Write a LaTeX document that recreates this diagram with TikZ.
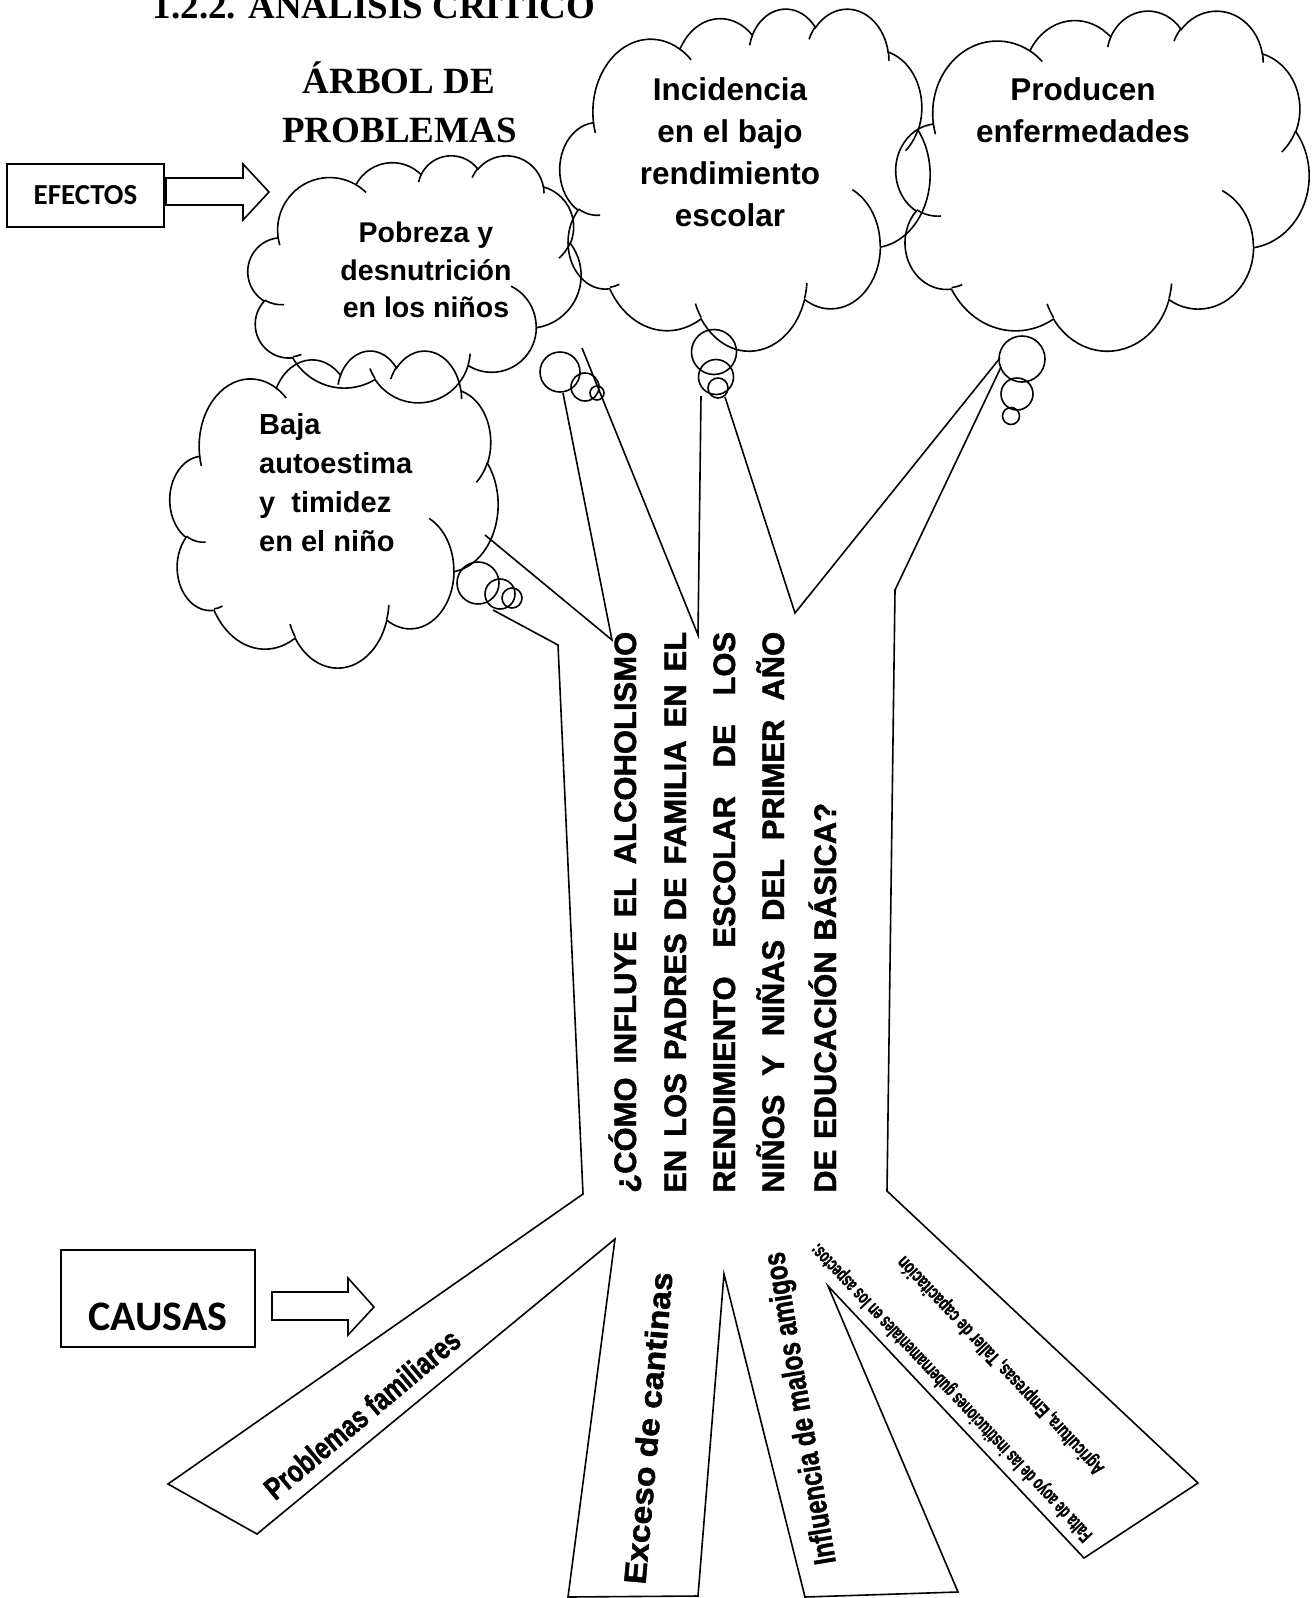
\documentclass[tikz,border=0pt]{standalone}
\usepackage{fontspec}
\setmainfont{Liberation Sans}
\newfontfamily\timesfont{Liberation Serif}
\newfontfamily\calibrifont{Carlito}
\newfontfamily\heavyfont{Liberation Sans}[BoldFeatures={FakeBold=1.5}]
\usepackage{graphicx}
\usetikzlibrary{positioning}
\tikzset{
    treeline/.style={line width=1.6pt, line join=miter},
    bubble/.style={draw, circle, line width=1.6pt, inner sep=0pt,
                   minimum size=#1},
    tagbox/.style={draw, line width=1.6pt, inner sep=0pt,
                   minimum width=#1, font=\calibrifont\bfseries},
    titletext/.style={anchor=base, inner sep=0pt,
                      font=\timesfont\bfseries\fontsize{37}{40}\selectfont},
    cloudtext/.style 2 args={inner sep=0pt, align=center,
                      font=\bfseries\fontsize{#1}{#2}\selectfont},
    trunktext/.style={rotate=90, anchor=base west, inner sep=0pt,
                      font=\heavyfont\bfseries\fontsize{31}{31}\selectfont},
    roottext/.style={inner sep=0pt, font=\heavyfont\bfseries\fontsize{#1}{#1}\selectfont},
    carc/.style n args={4}{insert path={
        arc[x radius=#1, y radius=#2,
            start angle={atan2(#1*sin(#3),#2*cos(#3))},
            delta angle={mod(atan2(#1*sin(#3+#4),#2*cos(#3+#4))-atan2(#1*sin(#3),#2*cos(#3))+720,360)}]}},
}
% cloud outline in a 432 x 432 box, placed at (x,y) with width w and height h
\newcommand{\wordcloud}[4]{%
  \pgfmathsetmacro{\cloudxu}{#3/432}%
  \pgfmathsetmacro{\cloudyu}{-#4/432}%
  \begin{scope}[shift={(#1,#2)}, x=\cloudxu pt, y=\cloudyu pt]
    \draw[treeline] (39.00,143.70)
        [carc={67.53}{91.90}{-190.4875}{123.7805}]
        [carc={53.33}{72.67}{-144.1024}{89.9452}]
        [carc={43.65}{59.45}{-145.8079}{99.7230}]
        [carc={48.57}{65.95}{-130.9861}{117.2417}]
        [carc={53.33}{72.73}{-78.7089}{109.0269}]
        [carc={67.75}{92.20}{-46.2673}{130.2690}]
        [carc={57.85}{78.67}{0.6250}{114.0333}]
        [carc={67.52}{92.15}{22.4516}{115.1726}]
        [carc={77.20}{105.43}{66.2426}{75.7110}]
        [carc={43.60}{59.18}{-274.9421}{146.7356}]
        [carc={43.45}{59.45}{-246.8285}{152.5189}] -- cycle;
    \draw[treeline]
        (46.93,261.77) [carc={43.45}{59.45}{86.7420}{26.4295}]
        (69.28,348.99) [carc={43.60}{59.18}{73.6105}{11.4475}]
        (164.78,390.90) [carc={67.52}{92.15}{137.6242}{14.0811}]
        (288.27,347.51) [carc={67.52}{92.15}{6.4533}{15.9984}]
        (341.29,229.54) [carc={57.85}{78.67}{-70.2924}{70.9174}]
        (417.98,153.54) [carc={53.33}{72.73}{30.3180}{27.7515}]
        (383.24,54.26) [carc={48.57}{65.95}{-13.7443}{14.8589}]
        (290.78,39.52) [carc={48.57}{65.95}{-149.1815}{18.1954}]
        (221.41,47.20) [carc={43.65}{59.45}{-163.4943}{17.6864}]
        (140.00,51.92) [carc={67.53}{91.90}{-66.7070}{12.3194}]
        (41.27,157.89) [carc={67.53}{91.90}{157.6544}{11.8582}];
  \end{scope}}

\begin{document}
\begin{tikzpicture}[x=1pt, y=-1pt]
    \useasboundingbox (0,0) rectangle (1315,1598);

    \node[titletext] (sectitle) at (374,19) {1.2.2. ANÁLISIS CRÍTICO};
    \node[titletext] (treetitle) at (399,93) {ÁRBOL DE};
    \node[titletext] (treetitleb) at (399.5,142) {PROBLEMAS};

    \node[tagbox=157pt, minimum height=63pt, font=\calibrifont\bfseries\fontsize{29}{29}\selectfont]
        (efectos) at (85.5,195.5) {EFECTOS};
    \draw[treeline] (166,178) -- (243,178) -- (243,164) -- (269,192) -- (243,220)
        -- (243,205) -- (166,205) -- cycle;
    \node[tagbox=194pt, text height=80pt, text depth=17pt, font=\calibrifont\bfseries\fontsize{42}{42}\selectfont]
        (causas) at (158,1298.5) {CAUSAS};
    \draw[treeline] (272,1292) -- (348,1292) -- (348,1278) -- (374,1307) -- (348,1335)
        -- (348,1320) -- (272,1320) -- cycle;

    \wordcloud{248}{155}{333}{247}
    \wordcloud{560}{8}{370}{342}
    \wordcloud{896}{10}{413}{340}
    \wordcloud{170}{350}{328}{317}

    \node[cloudtext={28.5}{37.5}] (pobreza) at (426,270) {Pobreza y\\desnutrición\\en los niños};
    \node[cloudtext={31.5}{42}] (incidencia) at (730,152.5) {Incidencia\\en el bajo\\rendimiento\\escolar};
    \node[cloudtext={31.5}{42}] (producen) at (1083,110.5) {Producen\\enfermedades};
    \node[cloudtext={29}{39}, align=left, anchor=west] (baja) at (259,483) {Baja\\autoestima\\y~ timidez\\en el niño};

    \node[bubble=40pt] (bubA1) at (560,372) {};
    \node[bubble=28pt] (bubA2) at (585,387) {};
    \node[bubble=14pt] (bubA3) at (597,393) {};
    \node[bubble=45pt] (bubB1) at (714,352) {};
    \node[bubble=35pt] (bubB2) at (716,377) {};
    \node[bubble=20pt] (bubB3) at (718,388) {};
    \node[bubble=46pt] (bubC1) at (1022,359) {};
    \node[bubble=32pt] (bubC2) at (1017,394) {};
    \node[bubble=17pt] (bubC3) at (1011,416) {};
    \node[bubble=42pt] (bubD1) at (478,583) {};
    \node[bubble=30pt] (bubD2) at (500,594) {};
    \node[bubble=20pt] (bubD3) at (512,598) {};

    \coordinate (dTop) at (485,535);
    \coordinate (dLow) at (493,610);
    \coordinate (kneeL) at (558,645);
    \coordinate (footL) at (583,1194);
    \coordinate (v1) at (612,640);
    \coordinate (aLeft) at (563,393);
    \coordinate (aRight) at (582,348);
    \coordinate (v2) at (698,635);
    \coordinate (bLeft) at (701,396);
    \coordinate (bRight) at (725,397);
    \coordinate (v3) at (795,613);
    \coordinate (cLeft) at (1000,358);
    \coordinate (cRight) at (1001,367);
    \coordinate (kneeR) at (895,590);
    \coordinate (footR) at (887,1191);
    \coordinate (tip1a) at (168,1484);
    \coordinate (tip1b) at (257,1534);
    \coordinate (gap1) at (615,1239);
    \coordinate (tip2a) at (568,1597);
    \coordinate (tip2b) at (698,1596);
    \coordinate (gap2) at (724,1274);
    \coordinate (tip3a) at (805,1597);
    \coordinate (tip3b) at (958,1592);
    \coordinate (gap3) at (828,1286);
    \coordinate (tip4a) at (1084,1558);
    \coordinate (tip4b) at (1198,1483);

    \draw[treeline] (dLow) -- (kneeL) -- (footL) -- (tip1a) -- (tip1b) -- (gap1)
        -- (tip2a) -- (tip2b) -- (gap2) -- (tip3a) -- (tip3b) -- (gap3)
        -- (tip4a) -- (tip4b) -- (footR) -- (kneeR) -- (cRight);
    \draw[treeline] (dTop) -- (v1) -- (aLeft);
    \draw[treeline] (aRight) -- (v2) -- (bLeft);
    \draw[treeline] (bRight) -- (v3) -- (cLeft);

    \node[trunktext] (qline1) at (636,1193) {\makebox[561pt][s]{¿CÓMO INFLUYE EL ALCOHOLISMO}};
    \node[trunktext] (qline2) at (686,1193) {\makebox[561pt][s]{EN LOS PADRES DE FAMILIA EN EL}};
    \node[trunktext] (qline3) at (735,1193) {\makebox[561pt][s]{RENDIMIENTO ESCOLAR DE LOS}};
    \node[trunktext] (qline4) at (784,1193) {\makebox[561pt][s]{NIÑOS Y NIÑAS DEL PRIMER AÑO}};
    \node[trunktext] (qline5) at (836,1193) {\makebox[390pt][s]{DE EDUCACIÓN BÁSICA?}};

    \node[roottext=31, rotate=40] (familiares) at (362,1414)
        {\resizebox{245pt}{\height}{Problemas familiares}};
    \node[roottext=31, rotate=85] (cantinas) at (648,1428)
        {\resizebox{313pt}{\height}{Exceso de cantinas}};
    \node[roottext=31, rotate=99.5] (amigos) at (802,1408)
        {\resizebox{316pt}{\height}{Influencia de malos amigos}};
    \node[roottext=20, rotate=133.3] (apoyo) at (952,1392)
        {\resizebox{401pt}{\height}{Falta de aoyo de las instituciones gubernamentales en los aspectos:}};
    \node[roottext=20, rotate=133.3] (aspectos) at (1001,1365)
        {\resizebox{292pt}{\height}{Agricultura, Empresas, Taller de capacitación}};
\end{tikzpicture}
\end{document}
